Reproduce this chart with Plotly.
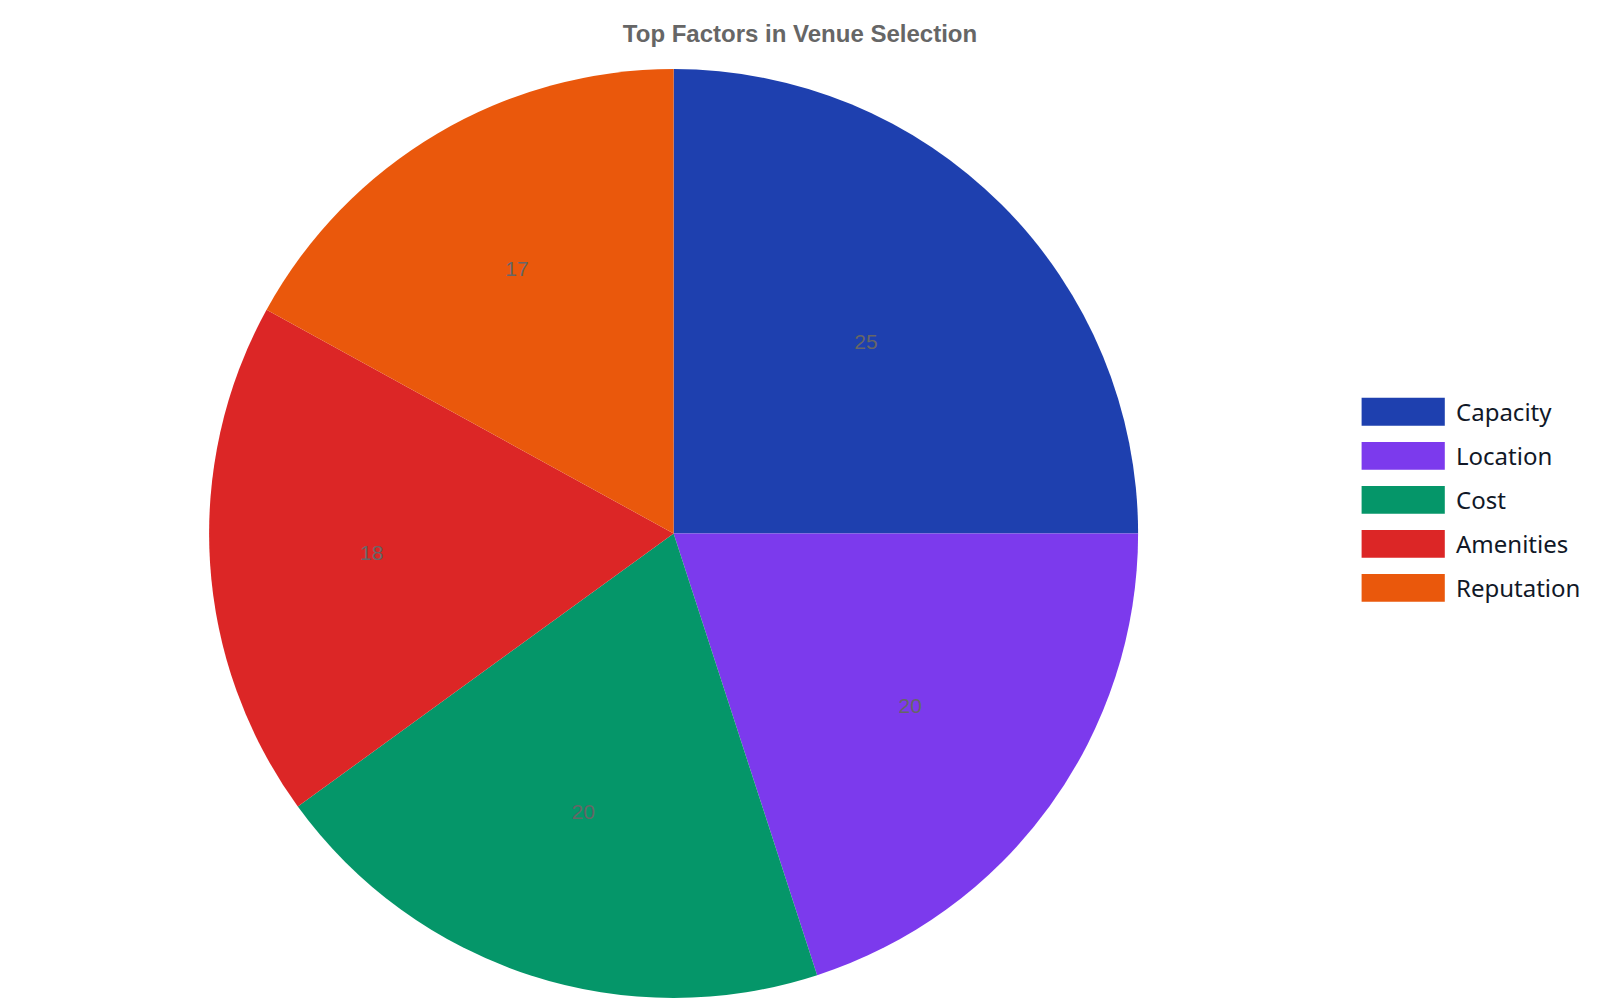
import plotly.graph_objects as go

factors = ["Capacity", "Location", "Cost", "Amenities", "Reputation"]
shares = [25, 20, 20, 18, 17]
colors = ["#1e40af", "#7c3aed", "#059669", "#dc2626", "#ea580c"]

fig = go.Figure(go.Pie(
    labels=factors,
    values=shares,
    sort=False,
    direction="clockwise",
    rotation=0,
    marker=dict(colors=colors, line=dict(width=0)),
    textinfo="value",
    textposition="inside",
    insidetextorientation="horizontal",
    textfont=dict(family="Liberation Sans, Arial", size=21, color="#666666"),
    domain=dict(x=[0, 0.832], y=[0, 1]),
    hoverinfo="label+value",
    showlegend=False,
))

# legend drawn as wide swatches beside the pie
top_row = 0.631
row_step = 0.0474
sw_h = 0.030
for i, (name, col) in enumerate(zip(factors, colors)):
    yc = top_row - i * row_step
    fig.add_shape(type="rect", xref="paper", yref="paper",
                  x0=0.846, x1=0.898, y0=yc - sw_h / 2, y1=yc + sw_h / 2,
                  fillcolor=col, line=dict(width=0))
    fig.add_annotation(xref="paper", yref="paper", x=0.904, y=yc,
                       xanchor="left", yanchor="middle", showarrow=False,
                       text=name,
                       font=dict(family="Noto Sans, Open Sans", size=24, color="#111827"))

fig.update_layout(
    width=1600,
    height=1000,
    paper_bgcolor="white",
    margin=dict(l=0, r=0, t=61, b=10),
    title=dict(
        text="<b>Top Factors in Venue Selection</b>",
        x=0.495, xanchor="center", y=0.974, yanchor="middle",
        font=dict(family="Liberation Sans, Arial", size=24, color="#666666"),
    ),
)

fig.write_html("out.html")
